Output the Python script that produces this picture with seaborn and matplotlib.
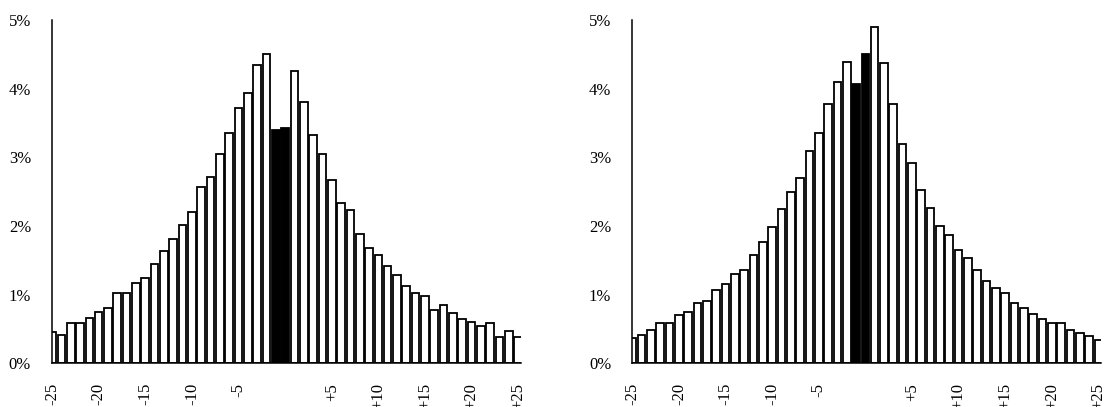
import matplotlib

matplotlib.use("Agg")
import matplotlib.pyplot as plt
import numpy as np
import pandas as pd
import seaborn as sns

# deviation from reference, -25 .. +25
offsets = list(range(-25, 26))
highlight = [-1, 0]

left_values = [
    0.45, 0.41, 0.58, 0.59, 0.655, 0.74, 0.81, 1.02, 1.02, 1.17,
    1.24, 1.44, 1.64, 1.81, 2.02, 2.20, 2.56, 2.71, 3.05, 3.36,
    3.72, 3.93, 4.34, 4.50, 3.40, 3.43, 4.26, 3.80, 3.32, 3.05,
    2.67, 2.33, 2.23, 1.89, 1.68, 1.57, 1.41, 1.28, 1.12, 1.03,
    0.976, 0.777, 0.845, 0.728, 0.65, 0.60, 0.55, 0.58, 0.39, 0.466,
    0.39,
]
right_values = [
    0.37, 0.41, 0.48, 0.58, 0.58, 0.70, 0.74, 0.88, 0.91, 1.07,
    1.15, 1.30, 1.36, 1.58, 1.76, 1.99, 2.24, 2.49, 2.70, 3.09,
    3.36, 3.77, 4.09, 4.39, 4.06, 4.50, 4.89, 4.37, 3.77, 3.20,
    2.91, 2.53, 2.26, 2.00, 1.87, 1.65, 1.54, 1.36, 1.20, 1.10,
    1.03, 0.88, 0.80, 0.72, 0.64, 0.58, 0.58, 0.485, 0.44, 0.40,
    0.345,
]

xtick_values = list(range(-25, 30, 5))
xtick_labels = ["" if v == 0 else ("%+d" % v) for v in xtick_values]
ytick_values = [0, 1, 2, 3, 4, 5]
ytick_labels = ["%d%%" % v for v in ytick_values]

sns.set_style("white")
plt.rcParams["font.family"] = ["Liberation Serif", "DejaVu Serif"]
plt.rcParams["font.size"] = 12


def make_frame(values):
    df = pd.DataFrame({"offset": offsets, "share": values})
    df["kind"] = np.where(df["offset"].isin(highlight), "ref", "other")
    return df


def draw_panel(ax, df):
    sns.barplot(
        data=df, x="offset", y="share", hue="kind",
        palette={"other": "white", "ref": "black"},
        native_scale=True, dodge=False, width=0.82,
        edgecolor="black", linewidth=1.3, legend=False, ax=ax,
    )
    ax.set_xlim(-25, 25.28)
    ax.set_ylim(0, 5)
    ax.set_xticks(xtick_values)
    ax.set_xticklabels(xtick_labels, rotation=90, va="top")
    ax.set_yticks(ytick_values)
    ax.set_yticklabels(ytick_labels)
    ax.set_xlabel("")
    ax.set_ylabel("")
    for side in ["top", "right"]:
        ax.spines[side].set_visible(False)
    for side in ["left", "bottom"]:
        ax.spines[side].set_color("black")
        ax.spines[side].set_linewidth(1.1)
    ax.tick_params(axis="x", direction="out", length=3.6, width=1.1,
                   color="black", labelcolor="black", pad=10.5, labelsize=12)
    ax.tick_params(axis="y", direction="out", length=3.6, width=1.1,
                   color="black", labelcolor="black", pad=11.5, labelsize=12)


fig = plt.figure(figsize=(11.05, 4.07), dpi=100)
ax_left = fig.add_axes([0.0471, 0.1074, 0.4242, 0.8436])
ax_right = fig.add_axes([0.5722, 0.1074, 0.4242, 0.8436])

draw_panel(ax_left, make_frame(left_values))
draw_panel(ax_right, make_frame(right_values))

fig.savefig("out.png", dpi=100, facecolor="white")
